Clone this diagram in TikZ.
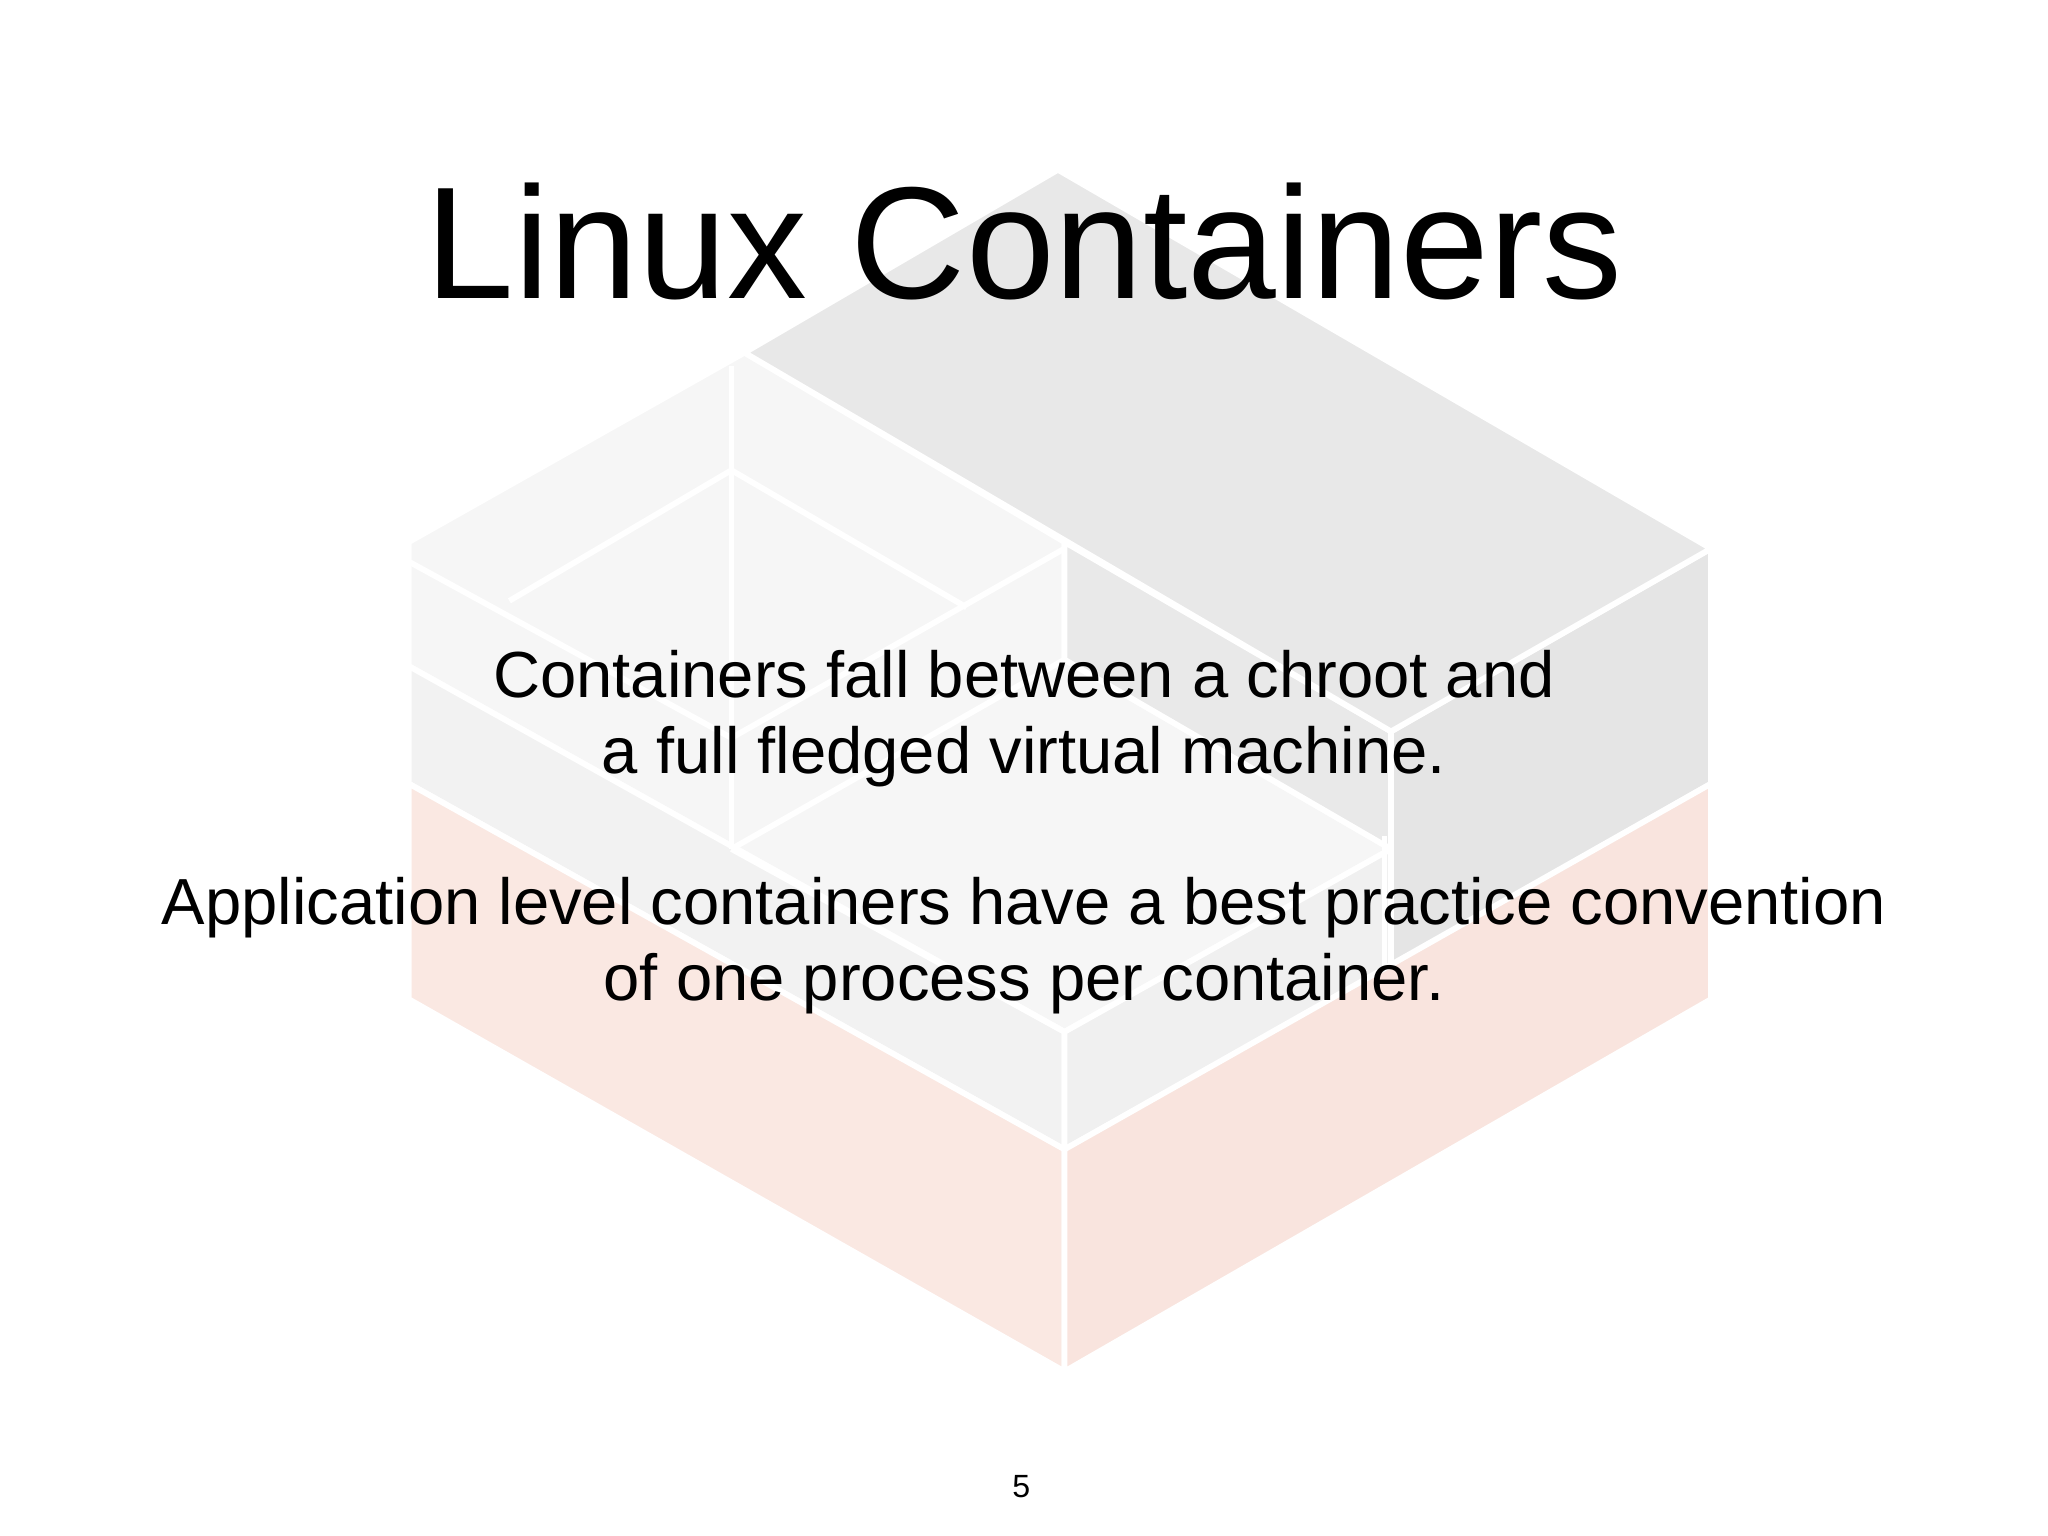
\documentclass[tikz,border=0pt]{standalone}
\usepackage{fontspec}
\setmainfont{Liberation Sans}
\begin{document}
\begin{tikzpicture}[x=0.02cm,y=-0.02cm,
  face/.style={draw=white,line width=2.5pt,line join=round},
  ln/.style={draw=white,line width=2.5pt}]
\useasboundingbox (0,0) rectangle (1568,1176);
\fill[white] (0,0) rectangle (1568,1176);
\path[face,fill=gray!7] (313,415) -- (570,270) -- (815,415) -- (815,505) -- (1065,650) -- (815,790) -- (313,510) -- cycle;
\path[face,fill=gray!10] (313,510) -- (815,790) -- (815,880) -- (313,600) -- cycle;
\path[face,fill=gray!12] (815,790) -- (1065,650) -- (1065,740) -- (815,880) -- cycle;
\path[face,fill=gray!17] (815,415) -- (1065,560) -- (1065,650) -- (815,505) -- cycle;
\path[face,fill=gray!20] (1065,560) -- (1310,420) -- (1310,600) -- (1065,740) -- cycle;
\path[face,fill=gray!18] (570,270) -- (810,130) -- (1310,420) -- (1065,560) -- cycle;
\path[face,fill={rgb,255:red,250;green,232;blue,226}] (313,600) -- (815,880) -- (815,1050) -- (313,765) -- cycle;
\path[face,fill={rgb,255:red,249;green,228;blue,222}] (815,880) -- (1310,600) -- (1310,765) -- (815,1050) -- cycle;
\draw[ln] (560,280) -- (560,650);
\draw[ln] (313,430) -- (560,565) -- (815,420);
\draw[ln] (390,460) -- (560,360) -- (740,465);
\draw[ln] (560,650) -- (815,505);
\draw[ln] (560,650) -- (815,790);
\draw[ln] (1060,640) -- (1060,740);
\node[font=\fontsize{69.5}{80}\selectfont] (title) at (784,185) {Linux Containers};
\node[font=\fontsize{28.4}{33}\selectfont,align=center] (t1) at (784,550) {Containers fall between a chroot and\\a full fledged virtual machine.};
\node[font=\fontsize{28.4}{33}\selectfont,align=center] (t2) at (784,724) {Application level containers have a best practice convention\\of one process per container.};
\node[font=\fontsize{14}{16}\selectfont] (pg) at (782,1138) {5};
\end{tikzpicture}
\end{document}
